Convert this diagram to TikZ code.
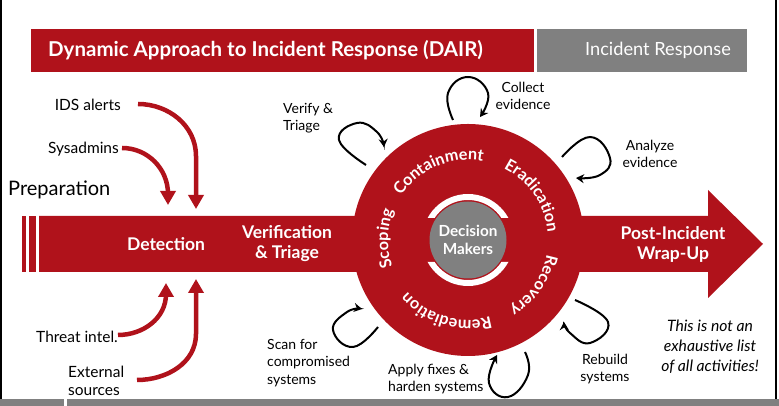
\documentclass[tikz,border=0pt]{standalone}
\usepackage{fontspec}
\setmainfont{Lato}
\usetikzlibrary{arrows.meta,decorations.text,calc}
\definecolor{dred}{RGB}{176,18,27}
\definecolor{dgray}{RGB}{128,128,128}
\begin{document}
\begin{tikzpicture}[x=1pt,y=1pt,
  redarrow/.style={draw=dred, line width=4.5pt, -{Triangle[length=14pt,width=15pt]}},
  loopar/.style={draw=black, line width=2pt, -{Stealth[length=8pt,width=9pt]}},
  lbl/.style={font=\fontsize{15.5}{18}\selectfont, inner sep=0pt},
  smalllbl/.style={font=\fontsize{14}{17.5}\selectfont, inner sep=0pt},
  bandtxt/.style={text=white, font=\bfseries\fontsize{17.5}{20}\selectfont, align=center, inner sep=0pt},
  ringtxt/.style={decorate, decoration={text along path, text align=center, text color=white,
     text={|\bfseries\fontsize{16.2}{16.2}\selectfont|#1}}},
]
\useasboundingbox (0,0) rectangle (779,406);
% frame
\fill[dgray] (0,0) rectangle (64,7);
\fill[dgray] (67,0) rectangle (779,7);
\draw[line width=1.2pt] (1,7) -- (1,406);
\draw[line width=1.2pt] (776,7) -- (776,406);
% title bars
\fill[dred] (31,334) rectangle (534,377);
\fill[dgray] (537,334) rectangle (747,377);
\node[anchor=west, inner sep=0pt, text=white, font=\bfseries\fontsize{20.5}{22}\selectfont] (title) at (48,356) {Dynamic Approach to Incident Response (DAIR)};
\node[anchor=east, inner sep=0pt, text=white, font=\fontsize{18.2}{20}\selectfont] (ir) at (731,356) {Incident Response};
% band
\fill[dred] (22,134) rectangle (26,190);
\fill[dred] (29,134) rectangle (36,190);
\fill[dred] (39,134) -- (708,134) -- (708,108) -- (763,162) -- (708,216) -- (708,190) -- (39,190) -- cycle;
% circle
\coordinate (C) at (468,166);
\fill[dred] (C) circle (116);
\begin{scope}
  \clip (380,80) rectangle (560,144) (380,188) rectangle (560,260);
  \fill[white, even odd rule] (C) circle (46) (C) circle (40);
\end{scope}
\node[circle, fill=dgray, minimum size=77pt, inner sep=0pt] (dm) at (C) {};
\node[text=white, font=\bfseries\fontsize{15.3}{18}\selectfont, align=center, inner sep=0pt] (dmt) at (C) {Decision\\Makers};
% ring texts
\path[ringtxt=Containment] ($(C)+(163:80)$) arc[start angle=163, end angle=63, radius=80];
\path[ringtxt=Eradication] ($(C)+(84.5:80)$) arc[start angle=84.5, end angle=-15.5, radius=80];
\path[ringtxt=Recovery] ($(C)+(15.5:80)$) arc[start angle=15.5, end angle=-84.5, radius=80];
\path[ringtxt=Remediation] ($(C)+(-56.5:80)$) arc[start angle=-56.5, end angle=-156.5, radius=80];
\path[ringtxt=Scoping] ($(C)+(229:80)$) arc[start angle=229, end angle=129, radius=80];
% band texts
\node[bandtxt] (det) at (166,162) {Detection};
\node[bandtxt] (vt) at (287,162) {Verification\\\& Triage};
\node[bandtxt] (pi) at (673,162) {Post-Incident\\Wrap-Up};
% left labels
\node[anchor=west, inner sep=0pt, font=\fontsize{20}{24}\selectfont] (prep) at (8,216) {Preparation};
\node[lbl, anchor=east] (ids) at (121,301) {IDS alerts};
\node[lbl, anchor=east] (sys) at (119,257) {Sysadmins};
\node[lbl, anchor=east] (ti) at (118,69) {Threat intel.};
\node[lbl, anchor=west, align=left] (ext) at (68,25) {External\\sources};
\draw[redarrow] ([xshift=17pt,yshift=1pt]ids.east) to[out=0,in=90] (196,250) -- (196,197);
\draw[redarrow] ([xshift=3pt,yshift=1pt]sys.east) to[out=0,in=90] (168,212) -- (168,201);
\draw[redarrow] ([xshift=0pt,yshift=2pt]ti.east) to[out=0,in=-90] (166,112) -- (166,123);
\draw[redarrow] (137,26) to[out=0,in=-90] (196,72) -- (196,127);
% loops
\draw[loopar] plot[smooth, tension=0.8] coordinates {(366,241) (339,266) (357,283) (377,274) (384,259)};
\draw[loopar] plot[smooth, tension=0.8] coordinates {(453,286) (448,313) (468,329) (488,313) (480,289)};
\draw[loopar] plot[smooth, tension=0.8] coordinates {(562,249) (590,269) (610,248) (600,231) (576,228)};
\draw[loopar] plot[smooth, tension=0.8] coordinates {(575,106) (608,84) (590,63) (570,73) (564,84)};
\draw[loopar] plot[smooth, tension=0.8] coordinates {(525,54) (528,31) (508,9) (489,23) (497,51)};
\draw[loopar] plot[smooth, tension=0.8] coordinates {(378,79) (353,59) (333,76) (347,94) (362,97)};
% loop labels
\node[smalllbl, anchor=west, align=left] (vlab) at (283,288) {Verify \&\\Triage};
\node[smalllbl, align=center] (clab) at (523,310) {Collect\\evidence};
\node[smalllbl, align=center] (alab) at (650,252) {Analyze\\evidence};
\node[smalllbl, align=center] (rlab) at (605,37) {Rebuild\\systems};
\node[smalllbl, anchor=west, align=left] (aplab) at (388,27) {Apply fixes \&\\harden systems};
\node[smalllbl, anchor=west, align=left] (slab) at (267,43) {Scan for\\compromised\\systems};
\node[inner sep=0pt, align=center, font=\itshape\fontsize{15.7}{20}\selectfont] (note) at (710,59) {This is not an\\exhaustive list\\of all activities!};
\end{tikzpicture}
\end{document}
